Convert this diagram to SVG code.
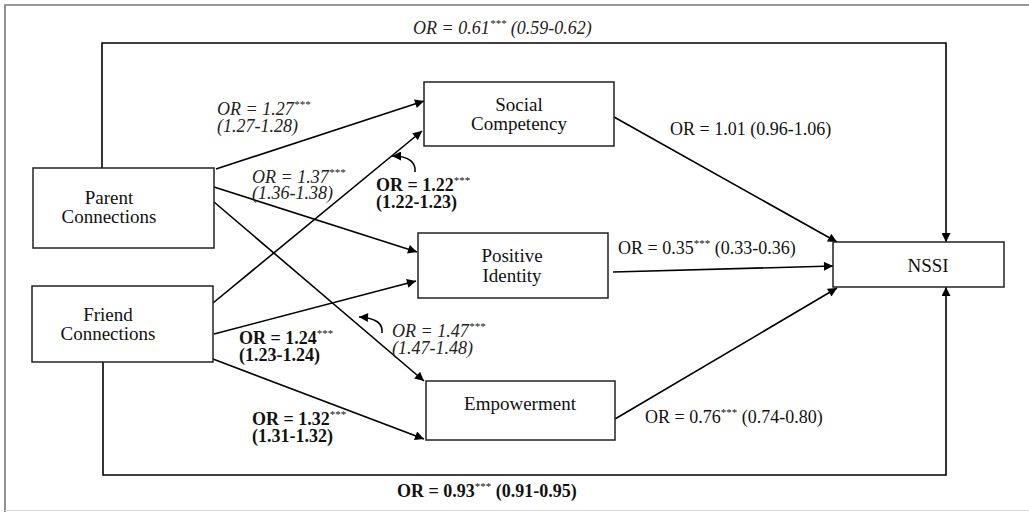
<svg xmlns="http://www.w3.org/2000/svg" width="1029" height="512" viewBox="0 0 1029 512">
<defs>
<marker id="ah" markerUnits="userSpaceOnUse" viewBox="0 0 10 10" refX="10" refY="5" markerWidth="11" markerHeight="9" orient="auto">
<path d="M0,0 L10,5 L0,10 z" fill="#000"/>
</marker>
<style>
.box{fill:#fff;stroke:#222;stroke-width:1.5}
.nt{font-family:"Liberation Serif","Times New Roman",serif;font-size:19px;fill:#111;text-anchor:middle}
.lb{font-family:"Liberation Serif","Times New Roman",serif;font-size:18px;fill:#111}
.it{font-style:italic;fill:#222}
.bd{font-weight:bold}
.st{font-size:11px;font-weight:normal}
.cn{fill:none;stroke:#000;stroke-width:1.6}
.ar{marker-end:url(#ah)}
</style>
</defs>
<rect width="1029" height="512" fill="#fff"/>
<path d="M5,512 V5 H1029" fill="none" stroke="#777" stroke-width="1.6"/>
<path d="M5,510.5 H1029" fill="none" stroke="#ddd" stroke-width="1"/>

<g id="connectors">
<path class="cn ar" d="M102,168 V43 H946 V242"/>
<path class="cn ar" d="M103,362 V475 H946 V287"/>
<path class="cn ar" d="M216,169 L424,101"/>
<path class="cn ar" d="M213,303 L422,131"/>
<path class="cn ar" d="M214,187 L417,252"/>
<path class="cn ar" d="M214,202 L424,381"/>
<path class="cn ar" d="M214,334 L416,281"/>
<path class="cn ar" d="M213,359 L424,439"/>
<path class="cn ar" d="M614,117 L837,242"/>
<path class="cn ar" d="M613,272 L833,266"/>
<path class="cn ar" d="M615,419 L837,288"/>
<path class="cn ar" d="M415,172 C416,163 410,156 392,156"/>
<path class="cn ar" d="M382,333 C383,324 377,318 359,317"/>
</g>

<g id="parent"><rect class="box" x="33" y="168" width="181" height="80"/>
<text class="nt" x="109" y="204">Parent<tspan x="109" dy="19">Connections</tspan></text></g>
<g id="friend"><rect class="box" x="32" y="286" width="181" height="76"/>
<text class="nt" x="108" y="321">Friend<tspan x="108" dy="19">Connections</tspan></text></g>
<g id="social"><rect class="box" x="424" y="82" width="190" height="64"/>
<text class="nt" x="519" y="111">Social<tspan x="519" dy="19">Competency</tspan></text></g>
<g id="positive"><rect class="box" x="418" y="233" width="190" height="65"/>
<text class="nt" x="512" y="262">Positive<tspan x="512" dy="20">Identity</tspan></text></g>
<g id="empowerment"><rect class="box" x="426" y="381" width="189" height="59"/>
<text class="nt" x="520" y="410">Empowerment</text></g>
<g id="nssi"><rect class="box" x="833" y="242" width="171" height="45"/>
<text class="nt" x="928" y="272">NSSI</text></g>

<g id="labels">
<text class="lb it" x="413" y="34">OR = 0.61<tspan class="st" dy="-7">***</tspan><tspan dy="7"> (0.59-0.62)</tspan></text>
<text class="lb it" x="217" y="115">OR = 1.27<tspan class="st" dy="-7">***</tspan><tspan x="217" dy="24">(1.27-1.28)</tspan></text>
<text class="lb it" x="252" y="183">OR = 1.37<tspan class="st" dy="-7">***</tspan><tspan x="252" dy="23">(1.36-1.38)</tspan></text>
<text class="lb bd" x="376" y="191">OR = 1.22<tspan class="st" dy="-7">***</tspan><tspan x="376" dy="24">(1.22-1.23)</tspan></text>
<text class="lb" x="670" y="135">OR = 1.01 (0.96-1.06)</text>
<text class="lb" x="618" y="254">OR = 0.35<tspan class="st" dy="-7">***</tspan><tspan dy="7"> (0.33-0.36)</tspan></text>
<text class="lb bd" x="239" y="344">OR = 1.24<tspan class="st" dy="-7">***</tspan><tspan x="239" dy="24">(1.23-1.24)</tspan></text>
<text class="lb it" x="392" y="337">OR = 1.47<tspan class="st" dy="-7">***</tspan><tspan x="392" dy="24">(1.47-1.48)</tspan></text>
<text class="lb bd" x="252" y="425">OR = 1.32<tspan class="st" dy="-7">***</tspan><tspan x="252" dy="24">(1.31-1.32)</tspan></text>
<text class="lb" x="645" y="423">OR = 0.76<tspan class="st" dy="-7">***</tspan><tspan dy="7"> (0.74-0.80)</tspan></text>
<text class="lb bd" x="397" y="497">OR = 0.93<tspan class="st" dy="-7">***</tspan><tspan dy="7"> (0.91-0.95)</tspan></text>
</g>
</svg>
